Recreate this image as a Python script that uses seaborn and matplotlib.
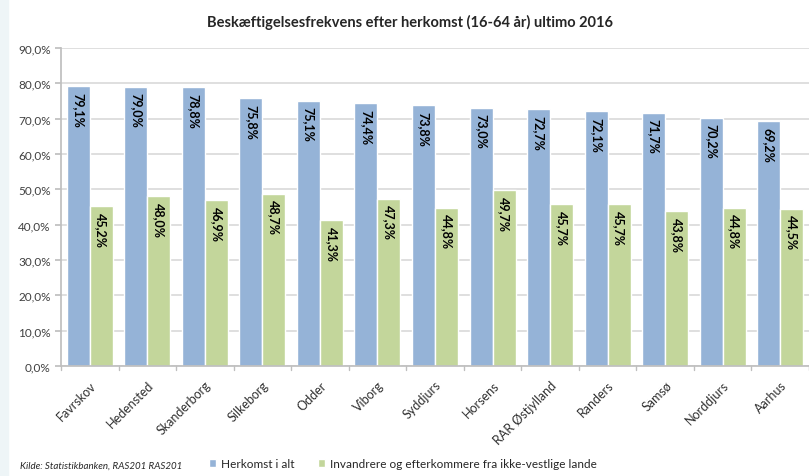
import numpy as np
import pandas as pd
import matplotlib
matplotlib.use("Agg")
import matplotlib.pyplot as plt
from matplotlib.ticker import FuncFormatter, MultipleLocator
import seaborn as sns

# Beskæftigelsesfrekvens (16-64 år) ultimo 2016
kommuner = ["Favrskov", "Hedensted", "Skanderborg", "Silkeborg", "Odder", "Viborg",
            "Syddjurs", "Horsens", "RAR Østjylland", "Randers", "Samsø", "Norddjurs", "Aarhus"]
herkomst_i_alt = [79.1, 79.0, 78.8, 75.8, 75.1, 74.4, 73.8, 73.0, 72.7, 72.1, 71.7, 70.2, 69.2]
ikke_vestlige = [45.2, 48.0, 46.9, 48.7, 41.3, 47.3, 44.8, 49.7, 45.7, 45.7, 43.8, 44.8, 44.5]
grupper = ["Herkomst i alt", "Invandrere og efterkommere fra ikke-vestlige lande"]

BLUE = "#95b3d7"
GREEN = "#c3d69b"

df = pd.DataFrame({
    "kommune": kommuner * 2,
    "pct": herkomst_i_alt + ikke_vestlige,
    "gruppe": [grupper[0]] * len(kommuner) + [grupper[1]] * len(kommuner),
})

sns.set_theme(style="white")
plt.rcParams["font.family"] = ["Lato", "DejaVu Sans"]

fig = plt.figure(figsize=(8.09, 4.77), dpi=100)
fig.patches.append(plt.Rectangle((0, 0), 0.010, 1, transform=fig.transFigure,
                                 color="#eef5f7", zorder=0))
ax = fig.add_axes([0.0754, 0.2306, 0.9246, 0.667])

sns.barplot(data=df, x="kommune", y="pct", hue="gruppe", palette=[BLUE, GREEN],
            width=0.8, saturation=1, ax=ax, legend=True)

ax.set_xlim(-0.5, 12.5)
ax.set_ylim(0, 90)
ax.yaxis.set_major_locator(MultipleLocator(10))
ax.yaxis.set_major_formatter(FuncFormatter(lambda v, p: f"{v:.1f}%".replace(".", ",")))
ax.grid(axis="y", color="#d9d9d9", linewidth=1.2)
ax.set_axisbelow(True)
for s in ["top", "right"]:
    ax.spines[s].set_visible(False)
ax.spines["left"].set_color("#bfbfbf")
ax.spines["bottom"].set_color("#bfbfbf")
ax.set_xlabel("")
ax.set_ylabel("")

# ticks at category boundaries like Excel
ax.set_xticks(np.arange(len(kommuner)))
ax.set_xticklabels(kommuner, rotation=45, ha="right", rotation_mode="anchor",
                   fontsize=9, color="#303030")
ax.tick_params(axis="x", length=0, pad=9)
ax.tick_params(axis="y", labelsize=8.5, labelcolor="#404040", length=4, color="#bfbfbf", left=True)
for b in np.arange(-0.5, 13, 1.0):
    ax.plot([b, b], [0, -1.2], color="#bfbfbf", lw=1, clip_on=False)

for cont in ax.containers:
    for bar in cont:
        h = bar.get_height()
        ax.annotate(f"{h:.1f}%".replace(".", ","),
                    (bar.get_x() + bar.get_width() / 2, h),
                    xytext=(0, -4), textcoords="offset points",
                    rotation=270, ha="center", va="top",
                    fontsize=9, fontweight="bold", color="black")

handles, labels = ax.get_legend_handles_labels()
ax.get_legend().remove()
fig.legend(handles, labels, loc="lower left", bbox_to_anchor=(0.245, -0.008), ncol=2,
           frameon=False, fontsize=8.5, handlelength=0.6, handleheight=0.6,
           handletextpad=0.4, columnspacing=2.0)

fig.text(0.025, 0.022, "Kilde: Statistikbanken, RAS201 RAS201", fontsize=7,
         style="italic", color="#262626", va="center")
fig.text(0.507, 0.952, "Beskæftigelsesfrekvens efter herkomst (16-64 år) ultimo 2016",
         ha="center", va="center", fontsize=10.5, fontweight="bold", color="#262626")

fig.savefig("out.png", dpi=100)
